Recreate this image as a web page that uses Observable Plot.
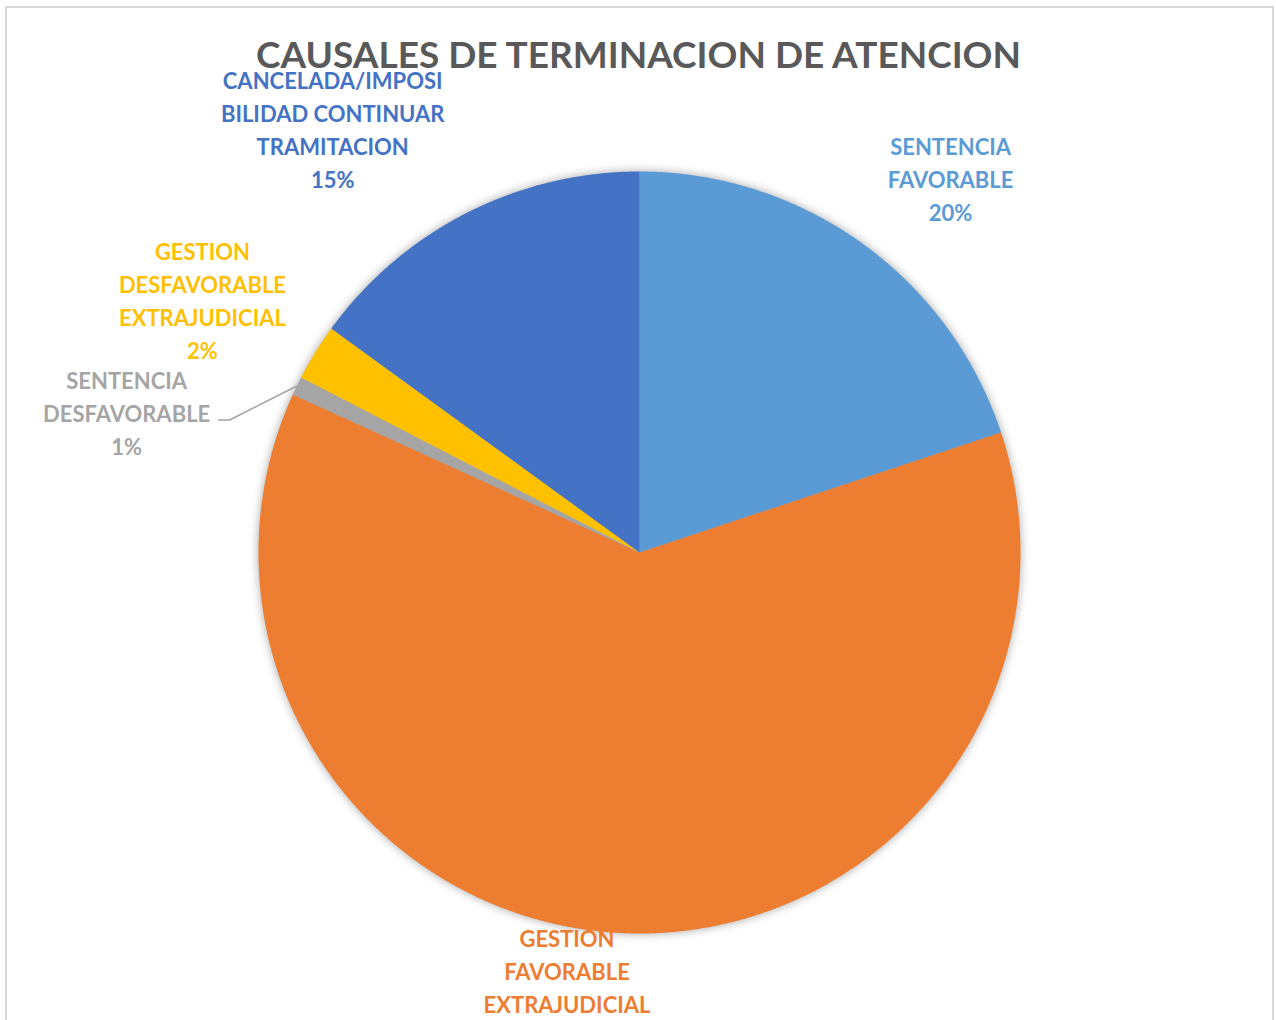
<!DOCTYPE html>
<html><head><meta charset="utf-8">
<script src="https://cdn.jsdelivr.net/npm/d3@7"></script>
<script src="https://cdn.jsdelivr.net/npm/@observablehq/plot@0.6"></script>
<style>
body{margin:0;background:#fff;overflow:hidden}
#wrap{position:relative;width:1276px;height:1020px;overflow:hidden}
#wrap svg{position:absolute;left:0;top:0}
#frame{position:absolute;left:5px;top:6px;width:1265px;height:1040px;border:2px solid #d9d9d9;pointer-events:none}
</style></head><body><div id="wrap"><div id="frame"></div></div>
<script>
// ---- data ----
const title = "CAUSALES DE TERMINACION DE ATENCION";
const categories = [
  "SENTENCIA FAVORABLE",
  "GESTION FAVORABLE EXTRAJUDICIAL",
  "SENTENCIA DESFAVORABLE",
  "GESTION DESFAVORABLE EXTRAJUDICIAL",
  "CANCELADA/IMPOSIBILIDAD CONTINUAR TRAMITACION"
];
const values = [19.9, 61.9, 0.8, 2.4, 15.0];
const labelLines = [
  ["SENTENCIA", "FAVORABLE"],
  ["GESTION", "FAVORABLE", "EXTRAJUDICIAL"],
  ["SENTENCIA", "DESFAVORABLE"],
  ["GESTION", "DESFAVORABLE", "EXTRAJUDICIAL"],
  ["CANCELADA/IMPOSI", "BILIDAD CONTINUAR", "TRAMITACION"]
];
const colors = ["#5B9BD5", "#ED7D31", "#A5A5A5", "#FFC000", "#4472C4"];

// ---- layout (label placement: angle shift in degrees from slice middle, distance in radii) ----
const labelAngleShift = [4.0, 6.4, -10.7, -1.8, -9.0];
const labelDistance = [1.275, 1.158, 1.395, 1.323, 1.370];
const W = 1276, H = 1020, CX = 639, CY = 552, R = 381;

const arcs = d3.pie().sort(null).value(d => d)(values);

const slicePts = arcs.flatMap((a, i) => {
  const cat = categories[i];
  const pts = [{cat, x: 0, y: 0}];
  const n = Math.max(4, Math.ceil((a.endAngle - a.startAngle) / (Math.PI / 720)));
  for (let k = 0; k <= n; k++) {
    const t = a.startAngle + (a.endAngle - a.startAngle) * k / n;
    pts.push({cat, x: Math.sin(t), y: Math.cos(t)});
  }
  pts.push({cat, x: 0, y: 0});
  return pts;
});

const labels = arcs.map((a, i) => {
  const mid = (a.startAngle + a.endAngle) / 2 + labelAngleShift[i] * Math.PI / 180;
  const d = labelDistance[i];
  return {
    cat: categories[i],
    x: d * Math.sin(mid),
    y: d * Math.cos(mid),
    text: [...labelLines[i], Math.round(values[i]) + "%"].join("\n")
  };
});

// leader line for the small "SENTENCIA DESFAVORABLE" slice
const sd = 2;
const sdMid = (arcs[sd].startAngle + arcs[sd].endAngle) / 2;
const leader = [
  {x: Math.sin(sdMid), y: Math.cos(sdMid)},
  {x: labels[sd].x + 103 / R, y: labels[sd].y - 7 / R},
  {x: labels[sd].x + 92 / R, y: labels[sd].y - 7 / R}
];

const chart = Plot.plot({
  width: W,
  height: H,
  margin: 0,
  style: {background: "transparent"},
  x: {domain: [-CX / R, (W - CX) / R], axis: null},
  y: {domain: [-(H - CY) / R, CY / R], axis: null},
  color: {domain: categories, range: colors},
  marks: [
    Plot.line(slicePts, {x: "x", y: "y", z: "cat", fill: "cat", stroke: "none", curve: "linear"}),
    Plot.line(leader, {x: "x", y: "y", stroke: "#A5A5A5", strokeWidth: 1.5}),
    Plot.text(labels, {
      x: "x", y: "y", text: "text", fill: "cat", dy: -2,
      fontSize: 22, fontWeight: "bold", fontFamily: "Lato",
      lineHeight: 1.5, lineAnchor: "middle", textAnchor: "middle"
    }),
    Plot.text([title], {
      text: d => d, frameAnchor: "top", dy: 41,
      fontSize: 37, fontWeight: "bold", fontFamily: "Lato", fill: "#595959"
    })
  ]
});
const g = chart.querySelectorAll('g[aria-label="line"]')[0];
if (g) g.style.filter = "drop-shadow(0px 0px 5px rgba(0,0,0,0.35))";
document.getElementById("wrap").insertBefore(chart, document.getElementById("frame"));
</script>
</body></html>
